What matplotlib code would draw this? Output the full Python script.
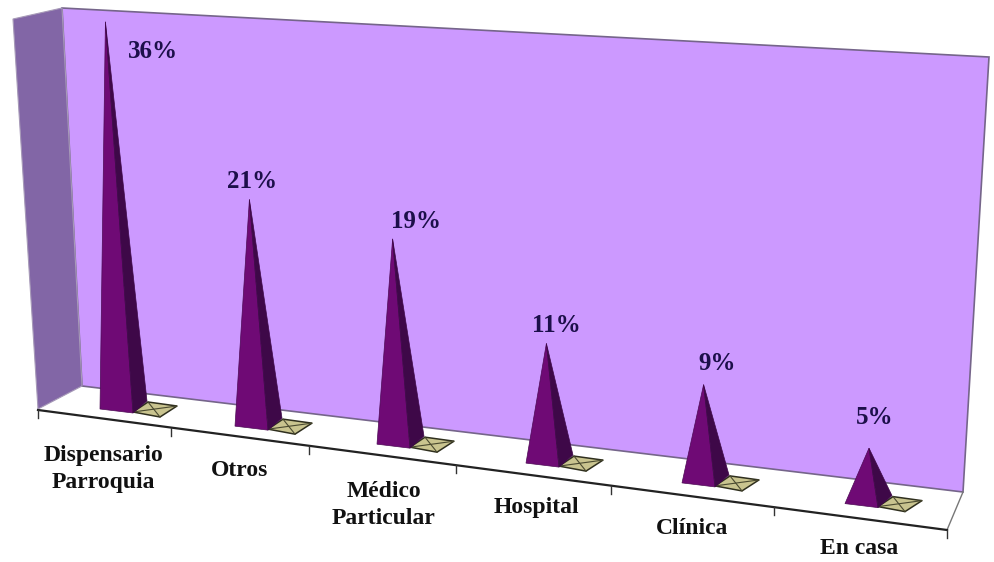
import matplotlib
matplotlib.use('Agg')
import matplotlib.pyplot as plt
from matplotlib.patches import Polygon

# Datos del grafico
categorias = ['Dispensario\nParroquia', 'Otros', 'Médico\nParticular', 'Hospital', 'Clínica', 'En casa']
valores = [36, 21, 19, 11, 9, 5]
etiquetas = ['36%', '21%', '19%', '11%', '9%', '5%']

# Posicion de los textos y marcas del eje en pixeles
pos_categorias = [(103, 469), (240, 470), (384, 505), (536, 507), (692, 528), (859, 549)]
pos_etiquetas = [(153, 51), (252, 181), (416, 222), (556, 325), (717, 363), (875, 418)]
marcas_x = [38, 171, 309, 456, 611, 774, 947]


# Proyeccion a mano: categoria -> pixel sobre el piso, valor -> altura
def base_x(i):
    return 100 + 131.5 * i + 3.5 * i ** 2


def base_y(x):
    return 409 + 0.127 * (x - 100)


def eje_y(x):
    return 410 + 0.132 * (x - 38)


def altura(v):
    return 2 + 10.7 * v


fig = plt.figure(figsize=(9.94, 5.62), dpi=100)
ax = fig.add_axes([0, 0, 1, 1])
ax.set_xlim(0, 994)
ax.set_ylim(562, 0)
ax.axis('off')

# Paredes y piso
ax.add_patch(Polygon([(62, 8), (989, 57), (963, 492), (82, 386)], fc='#CC99FF', ec='#75658a', lw=1.2))
ax.add_patch(Polygon([(13, 19), (62, 8), (82, 386), (38, 409)], fc='#8266A6', ec='#a79ab8', lw=0.8))
ax.plot([963, 947], [492, 530], color='#777777', lw=1)

# Eje con marcas
ax.plot([38, 947], [eje_y(38), eje_y(947)], color='#222222', lw=1.6)
for x in marcas_x:
    ax.plot([x, x], [eje_y(x), eje_y(x) + 8], color='#333333', lw=1)

# Piramides
for i, v in enumerate(valores):
    x0 = base_x(i)
    y0 = base_y(x0)
    frente = (x0 + 33, y0 + 4)
    derecha = (x0 + 47, y0 - 8)
    punta = (x0 + 27 - 0.6 * v, y0 - altura(v))

    # Sombra de la base: cuadrado con una X
    a = (x0 + 33, y0 + 3)
    b = (x0 + 48, y0 - 7)
    c = (x0 + 77, y0 - 3)
    d = (x0 + 60, y0 + 8)
    ax.add_patch(Polygon([a, b, c, d], fc='#C9C48F', ec='#2f2f1e', lw=1.1, zorder=3))
    ax.plot([a[0], c[0]], [a[1], c[1]], color='#4a4a30', lw=0.8, zorder=3)
    ax.plot([b[0], d[0]], [b[1], d[1]], color='#4a4a30', lw=0.8, zorder=3)

    ax.add_patch(Polygon([(x0, y0), frente, punta], fc='#6F0A75', ec='#4d0a55', lw=0.5, zorder=4))
    ax.add_patch(Polygon([frente, derecha, punta], fc='#3E0848', ec='#3E0848', lw=0.5, zorder=4))

# Textos
fuente = {'family': 'Liberation Serif', 'weight': 'bold'}
for texto, (x, y) in zip(categorias, pos_categorias):
    ax.text(x, y, texto, ha='center', va='center', fontsize=17, color='#111111',
            linespacing=1.38, **fuente)
for texto, (x, y) in zip(etiquetas, pos_etiquetas):
    ax.text(x, y, texto, ha='center', va='center', fontsize=18, color='#1C0F4A', **fuente)

fig.savefig('out.png', dpi=100, facecolor='white')
